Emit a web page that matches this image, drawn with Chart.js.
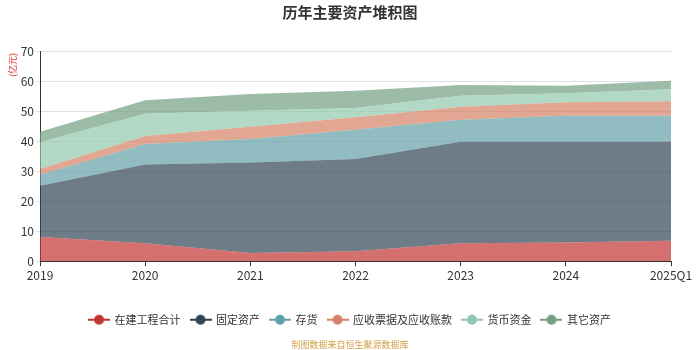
<!DOCTYPE html>
<html>
<head>
<meta charset="utf-8">
<script src="https://cdn.jsdelivr.net/npm/chart.js@4"></script>
<style>
  html, body { margin: 0; padding: 0; background: #fff; }
  #wrap { width: 700px; height: 350px; position: relative; }
</style>
</head>
<body>
<div id="wrap"><canvas id="stackChart"></canvas></div>
<script>
const years = ['2019', '2020', '2021', '2022', '2023', '2024', '2025Q1'];
const seriesNames = ['在建工程合计', '固定资产', '存货', '应收票据及应收账款', '货币资金', '其它资产'];
const colors = ['#c23531', '#2f4554', '#61a0a8', '#d48265', '#91c7ae', '#749f83'];

// values in 亿元
const construction = [8.1, 6.0, 2.7, 3.3, 6.0, 6.2, 6.8];
const fixedAssets = [17.0, 26.2, 30.2, 30.7, 33.8, 33.6, 33.0];
const inventory = [3.7, 6.8, 7.8, 9.8, 7.3, 8.6, 8.6];
const receivables = [1.9, 2.7, 4.1, 4.1, 4.3, 4.5, 4.9];
const cash = [8.9, 7.4, 5.3, 3.1, 3.7, 3.0, 4.0];
const otherAssets = [3.5, 4.5, 5.6, 5.8, 3.6, 2.5, 2.8];
const yTicks = [0, 10, 20, 30, 40, 50, 60, 70];

const allSeries = [construction, fixedAssets, inventory, receivables, cash, otherAssets];

function hexToRgba(hex, a) {
  const n = parseInt(hex.slice(1), 16);
  return 'rgba(' + (n >> 16) + ',' + ((n >> 8) & 255) + ',' + (n & 255) + ',' + a + ')';
}

// legend icon: short line with a dot in the middle
function legendIcon(color) {
  const c = document.createElement('canvas');
  c.width = 22; c.height = 12;
  const g = c.getContext('2d');
  g.strokeStyle = color;
  g.lineWidth = 2;
  g.beginPath(); g.moveTo(0, 6); g.lineTo(22, 6); g.stroke();
  g.fillStyle = color;
  g.beginPath(); g.arc(11, 6, 5, 0, Math.PI * 2); g.fill();
  return c;
}

const unitLabel = {
  id: 'unitLabel',
  afterDraw(chart) {
    const ctx = chart.ctx;
    ctx.save();
    ctx.translate(13, 65);
    ctx.rotate(-Math.PI / 2);
    ctx.fillStyle = '#e8312f';
    ctx.font = '9px "Noto Sans CJK SC", sans-serif';
    ctx.textAlign = 'center';
    ctx.textBaseline = 'middle';
    ctx.fillText('(亿元)', 0, 0);
    ctx.restore();
  }
};

const datasets = allSeries.map((vals, i) => ({
  label: seriesNames[i],
  data: vals,
  borderColor: hexToRgba(colors[i], 0.7),
  backgroundColor: hexToRgba(colors[i], 0.7),
  borderWidth: 0,
  pointRadius: 0,
  tension: 0,
  fill: i === 0 ? 'origin' : '-1'
}));

new Chart(document.getElementById('stackChart'), {
  type: 'line',
  data: { labels: years, datasets: datasets },
  plugins: [unitLabel],
  options: {
    responsive: true,
    maintainAspectRatio: false,
    animation: false,
    layout: { padding: 0 },
    plugins: {
      title: {
        display: true,
        text: '历年主要资产堆积图',
        color: '#333',
        font: { size: 15, weight: 'bold', family: '"Noto Sans CJK SC", sans-serif' },
        padding: { top: 3, bottom: 30 }
      },
      subtitle: {
        display: true,
        position: 'bottom',
        text: '制图数据来自恒生聚源数据库',
        color: '#d4a04a',
        font: { size: 9, family: '"Noto Sans CJK SC", sans-serif' },
        padding: { top: 4, bottom: 0 }
      },
      legend: {
        position: 'bottom',
        labels: {
          color: '#333',
          font: { size: 11, family: '"Noto Sans CJK SC", sans-serif' },
          usePointStyle: true,
          pointStyleWidth: 20,
          boxHeight: 11,
          padding: 10,
          generateLabels(chart) {
            return chart.data.datasets.map((ds, i) => ({
              text: ds.label,
              fillStyle: colors[i],
              strokeStyle: colors[i],
              pointStyle: legendIcon(colors[i]),
              hidden: !chart.isDatasetVisible(i),
              datasetIndex: i,
              lineWidth: 0,
              fontColor: '#333'
            }));
          }
        }
      },
      tooltip: { enabled: false }
    },
    scales: {
      x: {
        offset: false,
        grid: { display: true, drawOnChartArea: false, drawTicks: true, tickLength: 5, color: '#333' },
        border: { color: '#333' },
        ticks: {
          color: '#333',
          font: { size: 12, family: '"Noto Sans CJK SC", sans-serif' },
          maxRotation: 0,
          autoSkip: false,
          padding: 2
        },
        afterFit(scale) { scale.height = 43; }
      },
      y: {
        stacked: true,
        min: 0,
        max: 70,
        afterBuildTicks(scale) { scale.ticks = yTicks.map(v => ({ value: v })); },
        grid: { color: 'rgba(0,0,0,0.12)', tickLength: 4, drawTicks: true },
        border: { color: '#333' },
        ticks: {
          color: '#333',
          font: { size: 12, family: '"Noto Sans CJK SC", sans-serif' },
          padding: 2
        },
        afterFit(scale) { scale.width = 40; }
      },
      // empty axis on the right, only reserves the margin there
      yRight: {
        position: 'right',
        display: true,
        grid: { display: false },
        border: { display: false },
        ticks: { display: false },
        afterFit(scale) { scale.width = 29; }
      }
    }
  }
});
</script>
</body>
</html>
